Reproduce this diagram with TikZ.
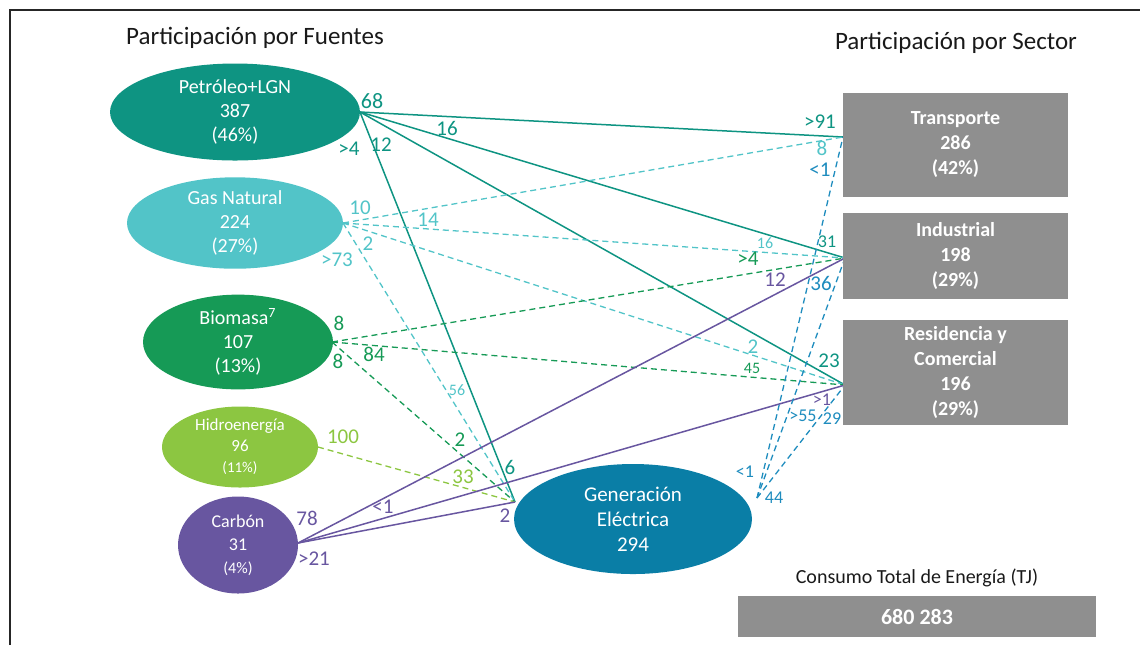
\documentclass[tikz,border=0pt]{standalone}
\usepackage{fontspec}
\setmainfont{Carlito}
\usetikzlibrary{shapes.geometric}
\definecolor{cPet}{RGB}{14,148,130}
\definecolor{cGas}{RGB}{82,196,200}
\definecolor{cBio}{RGB}{22,154,86}
\definecolor{cHid}{RGB}{140,198,65}
\definecolor{cCar}{RGB}{104,86,160}
\definecolor{cGen}{RGB}{10,126,166}
\definecolor{cGenL}{RGB}{30,140,190}
\definecolor{cBox}{RGB}{143,143,143}
\definecolor{cTxt}{RGB}{25,25,25}
\tikzset{
  src/.style={ellipse, inner sep=0pt, text=white, align=center, font=\fontsize{10}{12}\selectfont},
  sect/.style={rectangle, fill=cBox, inner sep=0pt, minimum width=112.5pt, text=white, align=center, font=\bfseries\fontsize{10}{12.5}\selectfont},
  solidln/.style={line width=0.75pt},
  dashln/.style={line width=0.65pt, dash pattern=on 3pt off 2pt},
  lab/.style={inner sep=0pt, font=\fontsize{10.5}{10.5}\selectfont},
  slab/.style={inner sep=0pt, font=\fontsize{8}{8}\selectfont},
  ttl/.style={inner sep=0pt, text=cTxt, font=\fontsize{12.5}{14}\selectfont}
}
\begin{document}
\begin{tikzpicture}[x=0.5pt,y=-0.5pt]
\useasboundingbox (0,0) rectangle (1140,645);
\draw[line width=0.6pt, black!85] (10,645) -- (10,10) -- (1140,10);

% titles
\node[ttl] (t1) at (255,38) {Participación por Fuentes};
\node[ttl] (t2) at (956,43) {Participación por Sector};
\node[ttl, font=\fontsize{10}{12}\selectfont] (t3) at (917,578) {Consumo Total de Energía (TJ)};

% connection points
\coordinate (tIn) at (843,137);
\coordinate (iIn) at (845,258);
\coordinate (rIn) at (845,385);
\coordinate (gIn) at (515,502);
\coordinate (gOut) at (757,498);

\coordinate (pE) at (360,112);
\coordinate (gE) at (343,223);
\coordinate (bE) at (332,342);
\coordinate (hE) at (318,447);
\coordinate (cE) at (298,543);

\draw[solidln, cPet] (pE) -- (tIn);
\draw[solidln, cPet] (pE) -- (iIn);
\draw[solidln, cPet] (pE) -- (rIn);
\draw[solidln, cPet] (pE) -- (gIn);

\draw[dashln, cGas] (gE) -- (tIn);
\draw[dashln, cGas] (gE) -- (iIn);
\draw[dashln, cGas] (gE) -- (rIn);
\draw[dashln, cGas] (gE) -- (gIn);

\draw[dashln, cBio] (bE) -- (iIn);
\draw[dashln, cBio] (bE) -- (rIn);
\draw[dashln, cBio] (bE) -- (gIn);

\draw[dashln, cHid] (hE) -- (gIn);

\draw[solidln, cCar] (cE) -- (iIn);
\draw[solidln, cCar] (cE) -- (rIn);
\draw[solidln, cCar] (cE) -- (gIn);

\draw[dashln, cGenL] (gOut) -- (tIn);
\draw[dashln, cGenL] (gOut) -- (iIn);
\draw[dashln, cGenL] (gOut) -- (rIn);

% source ellipses
\node[src, fill=cPet, minimum width=125pt, minimum height=48.5pt] (pet) at (235,112) {Petróleo+LGN\\387\\(46\%)};
\node[src, fill=cGas, minimum width=108pt, minimum height=45.5pt] (gas) at (235,223) {Gas Natural\\224\\(27\%)};
\node[src, fill=cBio, minimum width=95pt, minimum height=43.5pt] (bio) at (238,342) {Biomasa\textsuperscript{7}\\107\\(13\%)};
\node[src, fill=cHid, minimum width=78pt, minimum height=40.5pt, font=\fontsize{8.5}{10.5}\selectfont] (hid) at (240,447) {Hidroenergía\\96\\{\fontsize{7.5}{9}\selectfont(11\%)}};
\node[src, fill=cCar, minimum width=60pt, minimum height=48.5pt, font=\fontsize{9}{11.5}\selectfont] (car) at (238,545) {Carbón\\31\\{\fontsize{8}{10}\selectfont(4\%)}};
\node[src, fill=cGen, minimum width=119pt, minimum height=55pt, font=\fontsize{10.5}{12.5}\selectfont] (gen) at (633,519) {Generación\\Eléctrica\\294};

% sector boxes
\node[sect, minimum height=52pt] (tra) at (955.5,145) {Transporte\\286\\(42\%)};
\node[sect, minimum height=43pt] (ind) at (955.5,256) {Industrial\\198\\(29\%)};
\node[sect, minimum height=52.5pt] (res) at (955.5,372.5) {Residencia y\\Comercial\\196\\(29\%)};
\node[sect, minimum width=179pt, minimum height=20.5pt, font=\bfseries\fontsize{11}{13}\selectfont] (tot) at (917,616.5) {680 283};

% labels - petroleo
\node[lab, text=cPet, font=\fontsize{11}{11}\selectfont] (l1) at (372,101) {68};
\node[lab, text=cPet] (l2) at (447,128) {16};
\node[lab, text=cPet] (l3) at (349,149) {>4};
\node[lab, text=cPet] (l4) at (381,145) {12};
\node[lab, text=cPet] (l5) at (820,122) {>91};
\node[slab, text=cPet, font=\fontsize{9}{9}\selectfont] (l6) at (827,242) {31};
\node[lab, text=cPet] (l7) at (829,361) {23};
\node[lab, text=cPet] (l8) at (510,467) {6};
% gas
\node[lab, text=cGas] (g1) at (360,208) {10};
\node[lab, text=cGas] (g2) at (428,220) {14};
\node[lab, text=cGas] (g3) at (368,244) {2};
\node[lab, text=cGas] (g4) at (337,260) {>73};
\node[lab, text=cGas] (g5) at (822,148) {8};
\node[slab, text=cGas] (g6) at (765,243) {16};
\node[lab, text=cGas] (g7) at (753,347) {2};
\node[slab, text=cGas] (g8) at (457,390) {56};
% bio
\node[lab, text=cBio] (b1) at (339,323) {8};
\node[lab, text=cBio] (b2) at (338,361) {8};
\node[lab, text=cBio] (b3) at (374,354) {84};
\node[lab, text=cBio] (b4) at (748,259) {>4};
\node[slab, text=cBio] (b5) at (752,368) {45};
\node[lab, text=cBio] (b6) at (460,440) {2};
% hid
\node[lab, text=cHid] (h1) at (343,437) {100};
\node[lab, text=cHid] (h2) at (463,477) {33};
% carbon
\node[lab, text=cCar] (c1) at (307,518) {78};
\node[lab, text=cCar] (c2) at (314,559) {>21};
\node[lab, text=cCar] (c3) at (383,507) {<1};
\node[lab, text=cCar] (c4) at (505,516) {2};
\node[lab, text=cCar] (c5) at (775,280) {12};
\node[slab, text=cCar, font=\fontsize{9}{9}\selectfont] (c6) at (822,400) {>1};
% generacion
\node[slab, text=cGenL, font=\fontsize{9}{9}\selectfont] (e1) at (745,472) {<1};
\node[slab, text=cGenL, font=\fontsize{9}{9}\selectfont] (e2) at (774,498) {44};
\node[lab, text=cGenL] (e3) at (820,170) {<1};
\node[lab, text=cGenL] (e4) at (821,283) {36};
\node[slab, text=cGenL, font=\fontsize{9}{9}\selectfont] (e5) at (803,416) {>55};
\node[slab, text=cGenL, font=\fontsize{9}{9}\selectfont] (e6) at (832,419) {29};
\end{tikzpicture}
\end{document}
